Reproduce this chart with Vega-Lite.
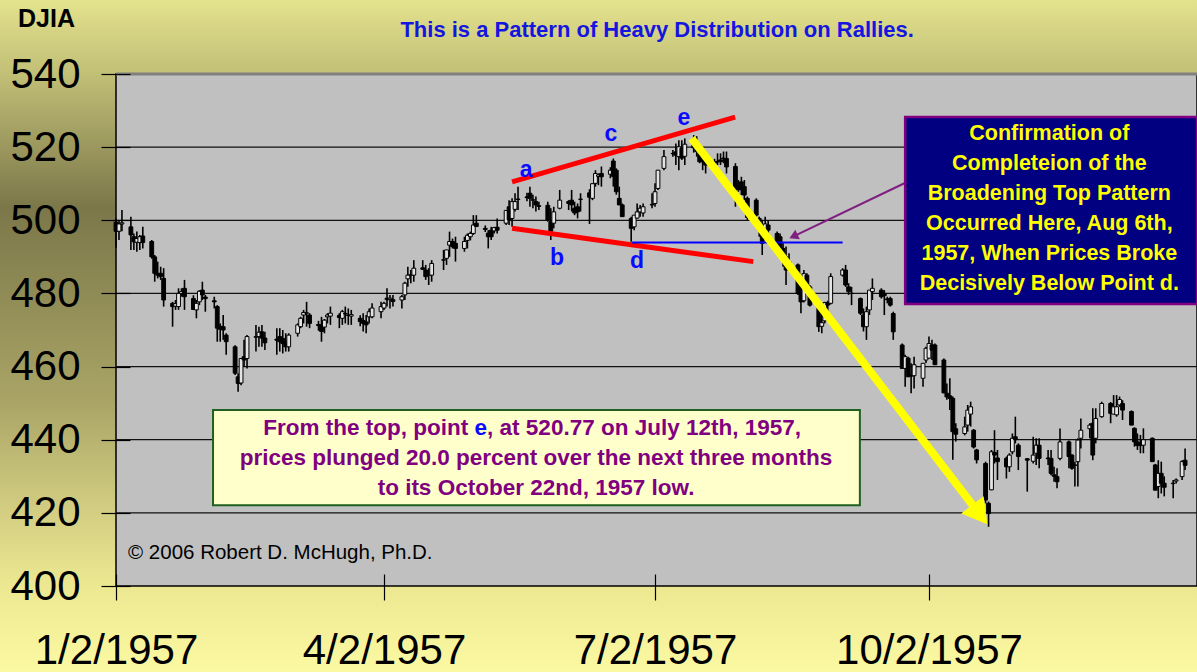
{
"$schema": "https://vega.github.io/schema/vega-lite/v6.json",
"width": 1081, "height": 512,
"autosize": {"type": "none"},
"padding": {"left": 116, "top": 74, "right": 0, "bottom": 86},
"background": "#e4e38d",
"config": {"view": {"stroke": null}, "font": "Liberation Sans"},
"datasets": {
"grid": [{"g":420},{"g":440},{"g":460},{"g":480},{"g":500},{"g":520}],
"djia": [
{"d":"1957-01-02","o":499.5,"h":500.5,"l":492.5,"c":497},
{"d":"1957-01-03","o":497,"h":500,"l":494.6,"c":499},
{"d":"1957-01-04","o":499,"h":502.8,"l":497,"c":499.3},
{"d":"1957-01-07","o":498.2,"h":501,"l":491.9,"c":496},
{"d":"1957-01-08","o":495.5,"h":496.4,"l":491.9,"c":494.1},
{"d":"1957-01-09","o":494,"h":496.9,"l":491.4,"c":495},
{"d":"1957-01-10","o":493.9,"h":496,"l":491.9,"c":495.5},
{"d":"1957-01-11","o":495.7,"h":498.2,"l":492.3,"c":493.9},
{"d":"1957-01-14","o":494.2,"h":494.6,"l":489.5,"c":490},
{"d":"1957-01-15","o":490,"h":490.5,"l":483.2,"c":485.5},
{"d":"1957-01-16","o":485.5,"h":488.7,"l":484.1,"c":485},
{"d":"1957-01-17","o":485.5,"h":487.3,"l":483.7,"c":484.6},
{"d":"1957-01-18","o":484.1,"h":486.9,"l":476.4,"c":478.2},
{"d":"1957-01-21","o":477.3,"h":477.7,"l":470.9,"c":476.4},
{"d":"1957-01-22","o":476.5,"h":478.2,"l":475.5,"c":477.2},
{"d":"1957-01-23","o":476.4,"h":481.4,"l":475.5,"c":480},
{"d":"1957-01-24","o":480,"h":481.4,"l":479.1,"c":480.5},
{"d":"1957-01-25","o":481.4,"h":483.7,"l":475.5,"c":479.1},
{"d":"1957-01-28","o":478.6,"h":479.5,"l":475.5,"c":475.6},
{"d":"1957-01-29","o":475.5,"h":478.2,"l":473.2,"c":477.3},
{"d":"1957-01-30","o":477.7,"h":480.9,"l":476.8,"c":480.6},
{"d":"1957-01-31","o":480.9,"h":483.2,"l":478.2,"c":479.6},
{"d":"1957-02-01","o":479,"h":479.6,"l":475,"c":478.6},
{"d":"1957-02-04","o":478,"h":479.1,"l":475.9,"c":477.7},
{"d":"1957-02-05","o":476.4,"h":476.8,"l":466.8,"c":470.5},
{"d":"1957-02-06","o":471,"h":471.8,"l":466.8,"c":470.2},
{"d":"1957-02-07","o":470.9,"h":474.1,"l":467.3,"c":470},
{"d":"1957-02-08","o":468.6,"h":469.1,"l":463.2,"c":466.8},
{"d":"1957-02-11","o":465.4,"h":465.8,"l":457.7,"c":458.2},
{"d":"1957-02-12","o":457.2,"h":458.2,"l":453.1,"c":455.4},
{"d":"1957-02-13","o":455.5,"h":462.3,"l":454.9,"c":462.2},
{"d":"1957-02-14","o":462.7,"h":467.3,"l":460,"c":461.8},
{"d":"1957-02-15","o":462.2,"h":468.6,"l":459.5,"c":468.2},
{"d":"1957-02-18","o":468,"h":471.4,"l":464.1,"c":468.2},
{"d":"1957-02-19","o":468.2,"h":470.9,"l":465.4,"c":469.4},
{"d":"1957-02-20","o":469.5,"h":471.4,"l":465.4,"c":467.8},
{"d":"1957-02-21","o":467.8,"h":469.5,"l":464.5,"c":466.5},
{"d":"1957-02-25","o":467.5,"h":470.5,"l":463.2,"c":467.2},
{"d":"1957-02-26","o":468.2,"h":470.5,"l":464.1,"c":466.8},
{"d":"1957-02-27","o":467.7,"h":470,"l":463.6,"c":466.3},
{"d":"1957-02-28","o":466.8,"h":469.1,"l":464.1,"c":465.4},
{"d":"1957-03-01","o":465.4,"h":469.1,"l":464.1,"c":468.6},
{"d":"1957-03-04","o":469.1,"h":471.8,"l":468.2,"c":471.4},
{"d":"1957-03-05","o":470.9,"h":473.6,"l":470.5,"c":473.2},
{"d":"1957-03-06","o":474.1,"h":475.5,"l":471.8,"c":474.8},
{"d":"1957-03-07","o":474.6,"h":477.7,"l":470.9,"c":474.7},
{"d":"1957-03-08","o":474.1,"h":474.6,"l":470.5,"c":471.8},
{"d":"1957-03-11","o":471.5,"h":472.5,"l":469.8,"c":471.2},
{"d":"1957-03-12","o":471.4,"h":473.6,"l":466.8,"c":469.6},
{"d":"1957-03-13","o":470.8,"h":473,"l":469.1,"c":472.7},
{"d":"1957-03-14","o":473.6,"h":474.6,"l":471.8,"c":474.1},
{"d":"1957-03-15","o":473.8,"h":476.4,"l":471.4,"c":474.6},
{"d":"1957-03-18","o":474,"h":474.6,"l":470.5,"c":473.4},
{"d":"1957-03-19","o":473.2,"h":475.5,"l":471.4,"c":475},
{"d":"1957-03-20","o":474.5,"h":476.4,"l":471.8,"c":474.4},
{"d":"1957-03-21","o":474.1,"h":475.9,"l":471.4,"c":474},
{"d":"1957-03-22","o":473.8,"h":475.5,"l":471.4,"c":474.2},
{"d":"1957-03-25","o":473.2,"h":474,"l":471,"c":472.3},
{"d":"1957-03-26","o":472.6,"h":474.6,"l":469.6,"c":471.8},
{"d":"1957-03-27","o":472.2,"h":474.1,"l":469.1,"c":471.4},
{"d":"1957-03-28","o":473.6,"h":475.9,"l":471.8,"c":475},
{"d":"1957-03-29","o":473.6,"h":477.3,"l":473.2,"c":476},
{"d":"1957-04-01","o":475,"h":477.7,"l":473.2,"c":476.4},
{"d":"1957-04-02","o":476,"h":477.7,"l":475.5,"c":477.3},
{"d":"1957-04-03","o":478.7,"h":481.4,"l":476.4,"c":478.3},
{"d":"1957-04-04","o":478.3,"h":479.6,"l":475.9,"c":478.7},
{"d":"1957-04-05","o":478.3,"h":479.6,"l":476.4,"c":477.8},
{"d":"1957-04-08","o":478.2,"h":479.6,"l":475.9,"c":479.1},
{"d":"1957-04-09","o":479.6,"h":483.2,"l":478.2,"c":482.8},
{"d":"1957-04-10","o":484,"h":487.3,"l":481.8,"c":485},
{"d":"1957-04-11","o":485,"h":486.4,"l":482.8,"c":485.1},
{"d":"1957-04-12","o":485,"h":489.1,"l":483.2,"c":486.9},
{"d":"1957-04-15","o":487,"h":489.1,"l":486.4,"c":486.6},
{"d":"1957-04-16","o":486.4,"h":487.8,"l":483.7,"c":484.6},
{"d":"1957-04-17","o":485,"h":486.9,"l":482.3,"c":485.1},
{"d":"1957-04-18","o":485,"h":489.1,"l":483.2,"c":488.2},
{"d":"1957-04-22","o":489.2,"h":491.9,"l":486.4,"c":489.1},
{"d":"1957-04-23","o":489.6,"h":491.9,"l":487.8,"c":491.9},
{"d":"1957-04-24","o":493.2,"h":496.9,"l":490,"c":494.2},
{"d":"1957-04-25","o":494.2,"h":495,"l":492.3,"c":492.8},
{"d":"1957-04-26","o":493.7,"h":495.5,"l":488.7,"c":492.3},
{"d":"1957-04-29","o":492.3,"h":495.5,"l":491.4,"c":494.2},
{"d":"1957-04-30","o":494.5,"h":496.4,"l":492.3,"c":495.9},
{"d":"1957-05-01","o":495.5,"h":496.9,"l":494.5,"c":496.4},
{"d":"1957-05-02","o":496.4,"h":501.4,"l":496,"c":498.7},
{"d":"1957-05-03","o":499.2,"h":501.4,"l":498.2,"c":498.3},
{"d":"1957-05-06","o":497.8,"h":498.6,"l":496.8,"c":497.5},
{"d":"1957-05-07","o":496.5,"h":497.3,"l":492.3,"c":495.5},
{"d":"1957-05-08","o":497.3,"h":498.2,"l":494.6,"c":495.5},
{"d":"1957-05-09","o":497.1,"h":498.2,"l":496.4,"c":498},
{"d":"1957-05-10","o":498.1,"h":500.5,"l":496.4,"c":497.3},
{"d":"1957-05-13","o":499.2,"h":502.8,"l":498.7,"c":502.7},
{"d":"1957-05-14","o":503.7,"h":505.5,"l":498.7,"c":500.1},
{"d":"1957-05-15","o":500.5,"h":506,"l":498.2,"c":505.1},
{"d":"1957-05-16","o":503,"h":507.4,"l":502.4,"c":505.1},
{"d":"1957-05-17","o":505.8,"h":509.2,"l":502.8,"c":505.7},
{"d":"1957-05-20","o":506.4,"h":507.5,"l":505.2,"c":506.2},
{"d":"1957-05-21","o":507.4,"h":509.2,"l":503.7,"c":506},
{"d":"1957-05-22","o":505.6,"h":507,"l":503.3,"c":505.5},
{"d":"1957-05-23","o":505.1,"h":506.5,"l":502.4,"c":504.2},
{"d":"1957-05-24","o":504,"h":505.1,"l":502.8,"c":503.8},
{"d":"1957-05-27","o":504.1,"h":505.1,"l":499.6,"c":500.1},
{"d":"1957-05-28","o":499.6,"h":503.3,"l":494.6,"c":497},
{"d":"1957-05-29","o":499.2,"h":503.7,"l":497.8,"c":502.3},
{"d":"1957-05-31","o":503.3,"h":508.3,"l":503,"c":505.5},
{"d":"1957-06-03","o":505.1,"h":505.5,"l":502.8,"c":504.6},
{"d":"1957-06-04","o":505.5,"h":508.3,"l":502.4,"c":504.2},
{"d":"1957-06-05","o":503.3,"h":505.1,"l":501.4,"c":502},
{"d":"1957-06-06","o":503.7,"h":504.6,"l":500.5,"c":502.3},
{"d":"1957-06-07","o":505.7,"h":507.4,"l":502.4,"c":505.8},
{"d":"1957-06-10","o":507.5,"h":508.5,"l":499,"c":506.3},
{"d":"1957-06-11","o":506,"h":510.1,"l":505.5,"c":510},
{"d":"1957-06-12","o":510.1,"h":513.7,"l":509.2,"c":512.8},
{"d":"1957-06-13","o":512,"h":512.8,"l":509.6,"c":512.4},
{"d":"1957-06-14","o":512.8,"h":514.7,"l":509.2,"c":511.9},
{"d":"1957-06-17","o":512.6,"h":514.5,"l":511.5,"c":513.7},
{"d":"1957-06-18","o":516.2,"h":516.9,"l":509.2,"c":512},
{"d":"1957-06-19","o":513.7,"h":514.2,"l":507,"c":507.8},
{"d":"1957-06-20","o":506,"h":509.2,"l":504.2,"c":504.2},
{"d":"1957-06-21","o":504.2,"h":504.6,"l":501,"c":501},
{"d":"1957-06-24","o":500.5,"h":501,"l":494.1,"c":497.8},
{"d":"1957-06-25","o":498.2,"h":501.4,"l":497.3,"c":501.4},
{"d":"1957-06-26","o":500.6,"h":504.6,"l":500.5,"c":502.3},
{"d":"1957-06-27","o":502.3,"h":504.2,"l":501,"c":503.3},
{"d":"1957-06-28","o":502,"h":504.6,"l":501,"c":503.7},
{"d":"1957-07-01","o":504.3,"h":507.4,"l":503.3,"c":504.2},
{"d":"1957-07-02","o":504.6,"h":510.1,"l":503.7,"c":507.8},
{"d":"1957-07-03","o":508.7,"h":513.7,"l":508.3,"c":513.7},
{"d":"1957-07-05","o":514.2,"h":519.2,"l":513.7,"c":517.4},
{"d":"1957-07-08","o":518.3,"h":519.2,"l":517.4,"c":518.2},
{"d":"1957-07-09","o":518.7,"h":521,"l":515.1,"c":517.8},
{"d":"1957-07-10","o":517.4,"h":521.9,"l":513.7,"c":520.1},
{"d":"1957-07-11","o":519.7,"h":521.9,"l":516.5,"c":517},
{"d":"1957-07-12","o":517.5,"h":522.4,"l":515.1,"c":520.8},
{"d":"1957-07-15","o":520.5,"h":523.3,"l":518.5,"c":519.8},
{"d":"1957-07-16","o":519.5,"h":523,"l":517.4,"c":518.8},
{"d":"1957-07-17","o":518.3,"h":518.8,"l":515.6,"c":516},
{"d":"1957-07-18","o":517.4,"h":518.8,"l":513.7,"c":516},
{"d":"1957-07-19","o":516.5,"h":517.4,"l":512.8,"c":515.1},
{"d":"1957-07-22","o":516,"h":516.8,"l":514.7,"c":515.6},
{"d":"1957-07-23","o":516,"h":518.3,"l":515.1,"c":516.1},
{"d":"1957-07-24","o":516.5,"h":518.3,"l":515.1,"c":516},
{"d":"1957-07-25","o":517,"h":518.8,"l":515.6,"c":516.8},
{"d":"1957-07-26","o":516.9,"h":518.8,"l":512.8,"c":514.6},
{"d":"1957-07-29","o":514.7,"h":515.6,"l":503.7,"c":508.3},
{"d":"1957-07-30","o":509.5,"h":511,"l":507.8,"c":509.2},
{"d":"1957-07-31","o":510.5,"h":511.9,"l":506.9,"c":508.3},
{"d":"1957-08-01","o":509.2,"h":511,"l":505.5,"c":506.9},
{"d":"1957-08-02","o":506,"h":506.5,"l":500.1,"c":500.8},
{"d":"1957-08-05","o":505.5,"h":506,"l":501,"c":501.4},
{"d":"1957-08-06","o":500.5,"h":501,"l":495.5,"c":497.3},
{"d":"1957-08-07","o":498.3,"h":500.1,"l":490.5,"c":493.7},
{"d":"1957-08-08","o":496.5,"h":501,"l":495.5,"c":499},
{"d":"1957-08-09","o":498.7,"h":500.1,"l":496,"c":497.3},
{"d":"1957-08-12","o":496.4,"h":496.9,"l":493.2,"c":493.7},
{"d":"1957-08-13","o":495.5,"h":496.4,"l":491.9,"c":492.4},
{"d":"1957-08-14","o":492.3,"h":493.7,"l":487.3,"c":489.1},
{"d":"1957-08-15","o":490,"h":492.8,"l":482.3,"c":486.4},
{"d":"1957-08-16","o":488.7,"h":491,"l":486.4,"c":487.8},
{"d":"1957-08-19","o":487.8,"h":488.2,"l":479.6,"c":480},
{"d":"1957-08-20","o":481.8,"h":482.8,"l":474.6,"c":477.7},
{"d":"1957-08-21","o":478,"h":486.4,"l":477.5,"c":485.4},
{"d":"1957-08-22","o":485,"h":485.5,"l":480,"c":481.8},
{"d":"1957-08-23","o":481.8,"h":482.3,"l":476.4,"c":476.8},
{"d":"1957-08-26","o":476,"h":476.5,"l":469.5,"c":470.9},
{"d":"1957-08-27","o":471,"h":476.4,"l":469.1,"c":472},
{"d":"1957-08-28","o":472.5,"h":477.7,"l":471.8,"c":477.5},
{"d":"1957-08-29","o":477.5,"h":478,"l":472.7,"c":476.8},
{"d":"1957-08-30","o":477.3,"h":485.5,"l":477,"c":484.6},
{"d":"1957-09-03","o":485,"h":486.9,"l":484.6,"c":486.4},
{"d":"1957-09-04","o":486.4,"h":487.8,"l":481.8,"c":482.3},
{"d":"1957-09-05","o":481.8,"h":482.8,"l":479.6,"c":480.5},
{"d":"1957-09-06","o":480,"h":481.8,"l":476.8,"c":480},
{"d":"1957-09-09","o":478.6,"h":478.9,"l":474.1,"c":474.6},
{"d":"1957-09-10","o":474.1,"h":475.9,"l":469.6,"c":470.9},
{"d":"1957-09-11","o":470.9,"h":476.4,"l":467.3,"c":475},
{"d":"1957-09-12","o":475.5,"h":480.9,"l":474.1,"c":480.9},
{"d":"1957-09-13","o":480.5,"h":484.1,"l":478.2,"c":481.4},
{"d":"1957-09-16","o":480.9,"h":481.4,"l":478.6,"c":479.1},
{"d":"1957-09-17","o":480,"h":480.9,"l":474.1,"c":479.4},
{"d":"1957-09-18","o":478.5,"h":479.1,"l":477.3,"c":478.3},
{"d":"1957-09-19","o":478.6,"h":479.1,"l":476.4,"c":476.8},
{"d":"1957-09-20","o":474.5,"h":475,"l":467.3,"c":469.5},
{"d":"1957-09-23","o":465.9,"h":466.3,"l":459.5,"c":459.5},
{"d":"1957-09-24","o":459.5,"h":463.2,"l":454.5,"c":462.7},
{"d":"1957-09-25","o":462.3,"h":462.7,"l":457.2,"c":457.2},
{"d":"1957-09-26","o":457.7,"h":460.9,"l":452.7,"c":457.4},
{"d":"1957-09-27","o":457.5,"h":462.7,"l":454,"c":460.5},
{"d":"1957-09-30","o":456.8,"h":460.9,"l":454.5,"c":460.9},
{"d":"1957-10-01","o":461.8,"h":465.4,"l":461,"c":465},
{"d":"1957-10-02","o":462.3,"h":468.2,"l":462.2,"c":466.3},
{"d":"1957-10-03","o":465.9,"h":467.3,"l":461.8,"c":464.5},
{"d":"1957-10-04","o":465.9,"h":466.3,"l":460.5,"c":460.5},
{"d":"1957-10-07","o":461.8,"h":462.2,"l":452.7,"c":452.8},
{"d":"1957-10-08","o":452.7,"h":455.4,"l":450.9,"c":451.7},
{"d":"1957-10-09","o":452,"h":456.8,"l":448.1,"c":451.3},
{"d":"1957-10-10","o":451.3,"h":451.8,"l":434.5,"c":442.2},
{"d":"1957-10-11","o":443,"h":444.5,"l":439.5,"c":441.5},
{"d":"1957-10-14","o":441.7,"h":446.3,"l":441.2,"c":443.5},
{"d":"1957-10-15","o":444,"h":449.5,"l":442.2,"c":448.1},
{"d":"1957-10-16","o":447,"h":450.4,"l":443.6,"c":449},
{"d":"1957-10-17","o":442.6,"h":442.9,"l":437.6,"c":438},
{"d":"1957-10-18","o":437.2,"h":437.5,"l":433.5,"c":434.5},
{"d":"1957-10-21","o":433.5,"h":434,"l":422.6,"c":423.5},
{"d":"1957-10-22","o":422.6,"h":423.1,"l":416.2,"c":419.8},
{"d":"1957-10-23","o":426.3,"h":437.2,"l":426.2,"c":436.7},
{"d":"1957-10-24","o":436.5,"h":442.6,"l":433.5,"c":435.8},
{"d":"1957-10-25","o":435,"h":437.2,"l":429,"c":434},
{"d":"1957-10-28","o":434.9,"h":435.4,"l":429.4,"c":432.6},
{"d":"1957-10-29","o":432.6,"h":436.3,"l":431.2,"c":435.8},
{"d":"1957-10-30","o":436.7,"h":441.7,"l":436,"c":440.4},
{"d":"1957-10-31","o":440.8,"h":446.3,"l":439,"c":440},
{"d":"1957-11-01","o":438.5,"h":439,"l":431.7,"c":435.4},
{"d":"1957-11-04","o":434.8,"h":434.9,"l":425.8,"c":434.4},
{"d":"1957-11-06","o":434.1,"h":440.8,"l":433.5,"c":435.8},
{"d":"1957-11-07","o":436.3,"h":440.4,"l":433.1,"c":438.5},
{"d":"1957-11-08","o":438.5,"h":440.4,"l":432.2,"c":434.9},
{"d":"1957-11-11","o":435,"h":437.2,"l":433.1,"c":434.8},
{"d":"1957-11-12","o":434.9,"h":437.2,"l":430.3,"c":430.8},
{"d":"1957-11-13","o":430.4,"h":432.6,"l":428.5,"c":430},
{"d":"1957-11-14","o":429.9,"h":432.2,"l":426.7,"c":428.5},
{"d":"1957-11-15","o":434.9,"h":443.1,"l":434.4,"c":439.4},
{"d":"1957-11-18","o":439.4,"h":439.8,"l":432.2,"c":435.4},
{"d":"1957-11-19","o":435.8,"h":436,"l":431.8,"c":432.2},
{"d":"1957-11-20","o":433.1,"h":434,"l":427.2,"c":433},
{"d":"1957-11-21","o":434,"h":440.4,"l":427.2,"c":439.9},
{"d":"1957-11-22","o":440.4,"h":445.8,"l":437.6,"c":442.6},
{"d":"1957-11-25","o":443,"h":444.5,"l":440.4,"c":444},
{"d":"1957-11-26","o":444.5,"h":448.6,"l":434.4,"c":435.8},
{"d":"1957-11-27","o":440.4,"h":448.6,"l":439,"c":445.8},
{"d":"1957-11-29","o":446.3,"h":450.4,"l":446,"c":449.9},
{"d":"1957-12-02","o":449.9,"h":450.3,"l":444.5,"c":447.2},
{"d":"1957-12-03","o":447,"h":452.2,"l":447,"c":449},
{"d":"1957-12-04","o":446.8,"h":452.2,"l":446.3,"c":449},
{"d":"1957-12-05","o":449.5,"h":451.8,"l":449,"c":451},
{"d":"1957-12-06","o":449.9,"h":450.8,"l":445.4,"c":448.1},
{"d":"1957-12-09","o":447.7,"h":448,"l":444,"c":444},
{"d":"1957-12-10","o":443.1,"h":443.4,"l":438.1,"c":439.4},
{"d":"1957-12-11","o":439.4,"h":441.7,"l":437.2,"c":438.4},
{"d":"1957-12-12","o":439,"h":441.3,"l":436.3,"c":438.4},
{"d":"1957-12-13","o":438.5,"h":443.1,"l":436.3,"c":440},
{"d":"1957-12-16","o":440.4,"h":440.6,"l":434,"c":434},
{"d":"1957-12-17","o":433.1,"h":433.4,"l":426.2,"c":426.2},
{"d":"1957-12-18","o":427.2,"h":434.4,"l":424,"c":430.8},
{"d":"1957-12-19","o":430.8,"h":434,"l":425.3,"c":428.1},
{"d":"1957-12-20","o":428.1,"h":430,"l":424.5,"c":427},
{"d":"1957-12-23","o":428.1,"h":429,"l":424,"c":428},
{"d":"1957-12-24","o":428.7,"h":429.4,"l":428,"c":429},
{"d":"1957-12-26","o":429.9,"h":434.4,"l":429,"c":434},
{"d":"1957-12-27","o":434.4,"h":437.6,"l":431.7,"c":433}
]},
"layer": [
{"data": {"values": [{}]},
 "mark": {"type": "rect", "fill": {"gradient": "linear", "x1": 0, "y1": 0, "x2": 0, "y2": 1,
   "stops": [{"offset": 0, "color": "#e4e38d"}, {"offset": 0.11, "color": "#c2bf77"}, {"offset": 0.31, "color": "#7b7749"}, {"offset": 0.6, "color": "#aaa566"}, {"offset": 0.75, "color": "#d0cb80"}, {"offset": 0.87, "color": "#ece891"}, {"offset": 1, "color": "#fcf9a3"}]}},
 "encoding": {
   "x": {"datum": {"year": 1956, "month": 11, "date": 20, "utc": true}, "type": "temporal",
         "scale": {"type": "utc", "padding": 0, "domain": [{"year": 1957, "month": 1, "date": 2, "utc": true}, {"year": 1957, "month": 12, "date": 31, "utc": true}]}},
   "x2": {"datum": {"year": 1958, "month": 1, "date": 10, "utc": true}},
   "y": {"datum": 560.5, "type": "quantitative", "scale": {"domain": [400, 540], "nice": false, "zero": false, "padding": 0}},
   "y2": {"datum": 376.3}}},
{"data": {"values": [{}]},
 "mark": {"type": "rect", "fill": "#c0c0c0", "stroke": "#000000", "strokeWidth": 1.5},
 "encoding": {
   "x": {"datum": {"year": 1957, "month": 1, "date": 2, "utc": true}, "type": "temporal"},
   "x2": {"datum": {"year": 1957, "month": 12, "date": 31, "utc": true}},
   "y": {"datum": 540, "type": "quantitative"},
   "y2": {"datum": 400}}},
{"data": {"name": "grid"},
 "mark": {"type": "rule", "stroke": "#111111", "strokeWidth": 1.2},
 "encoding": {"y": {"field": "g", "type": "quantitative"}}},
{"data": {"values": [{}]},
 "mark": {"type": "rule", "stroke": "#808080", "strokeWidth": 3},
 "encoding": {"y": {"datum": 540, "type": "quantitative"}}},
{"data": {"name": "djia"},
 "mark": {"type": "rule", "stroke": "#000000", "strokeWidth": 1.6},
 "encoding": {
   "x": {"field": "d", "type": "temporal",
     "scale": {"type": "utc", "padding": 0, "domain": [{"year": 1957, "month": 1, "date": 2, "utc": true}, {"year": 1957, "month": 12, "date": 31, "utc": true}]},
     "axis": {"values": [{"year": 1957, "month": 1, "date": 2, "utc": true}, {"year": 1957, "month": 4, "date": 2, "utc": true}, {"year": 1957, "month": 7, "date": 2, "utc": true}, {"year": 1957, "month": 10, "date": 2, "utc": true}],
       "format": "%-m/%-d/%Y", "title": null, "grid": false, "domain": false, "offset": -12, "tickSize": 26, "tickColor": "#000000", "tickWidth": 1.2,
       "labelFontSize": 42, "labelFont": "Liberation Sans", "labelColor": "#000000", "labelPadding": 30, "labelLimit": 0, "labelFlush": false, "labelOverlap": false, "labelBound": false, "zindex": 1}},
   "y": {"field": "l", "type": "quantitative",
     "scale": {"domain": [400, 540], "nice": false, "zero": false, "padding": 0},
     "axis": {"values": [400, 420, 440, 460, 480, 500, 520, 540], "format": "d", "title": null, "grid": false, "domain": false, "offset": -14, "tickSize": 29, "tickColor": "#000000", "tickWidth": 1.2,
       "labelFontSize": 42, "labelFont": "Liberation Sans", "labelColor": "#000000", "labelPadding": 21, "labelLimit": 0, "labelOverlap": false, "labelBound": false, "labelFlush": false, "zindex": 1}},
   "y2": {"field": "h"}}},
{"data": {"name": "djia"},
 "mark": {"type": "bar", "width": 3.8, "stroke": "#000000", "strokeWidth": 1},
 "encoding": {
   "x": {"field": "d", "type": "temporal"},
   "y": {"field": "o", "type": "quantitative"},
   "y2": {"field": "c"},
   "fill": {"condition": {"test": "datum.c < datum.o", "value": "#000000"}, "value": "#e4e4e4"}}},
{"data": {"values": [{}]},
 "layer": [
  {"mark": {"type": "rule", "stroke": "#ff0000", "strokeWidth": 5},
   "encoding": {"x": {"datum": {"year": 1957, "month": 5, "date": 15, "utc": true}, "type": "temporal"}, "y": {"datum": 510.5, "type": "quantitative"},
     "x2": {"datum": {"year": 1957, "month": 7, "date": 28, "hours": 22, "utc": true}}, "y2": {"datum": 528.2}}},
  {"mark": {"type": "rule", "stroke": "#ff0000", "strokeWidth": 5},
   "encoding": {"x": {"datum": {"year": 1957, "month": 5, "date": 15, "utc": true}, "type": "temporal"}, "y": {"datum": 497.8, "type": "quantitative"},
     "x2": {"datum": {"year": 1957, "month": 8, "date": 4, "utc": true}}, "y2": {"datum": 488.7}}},
  {"mark": {"type": "rule", "stroke": "#0000ff", "strokeWidth": 2},
   "encoding": {"x": {"datum": {"year": 1957, "month": 6, "date": 24, "hours": 5, "utc": true}, "type": "temporal"}, "y": {"datum": 493.9, "type": "quantitative"},
     "x2": {"datum": {"year": 1957, "month": 9, "date": 3, "utc": true}}, "y2": {"datum": 493.9}}},
  {"mark": {"type": "rule", "stroke": "#ffff00", "strokeWidth": 8},
   "encoding": {"x": {"datum": {"year": 1957, "month": 7, "date": 14, "hours": 7, "utc": true}, "type": "temporal"}, "y": {"datum": 522.4, "type": "quantitative"},
     "x2": {"datum": {"year": 1957, "month": 10, "date": 19, "hours": 2, "utc": true}}, "y2": {"datum": 419.55}}},
  {"mark": {"type": "point", "shape": "triangle-down", "filled": true, "fill": "#ffff00", "opacity": 1, "size": 800, "angle": 322.5, "strokeWidth": 0},
   "encoding": {"x": {"datum": {"year": 1957, "month": 10, "date": 19, "hours": 2, "utc": true}, "type": "temporal"}, "y": {"datum": 419.55, "type": "quantitative"}}},
  {"mark": {"type": "rule", "stroke": "#7f1f7f", "strokeWidth": 2},
   "encoding": {"x": {"datum": {"year": 1957, "month": 9, "date": 23, "hours": 22, "utc": true}, "type": "temporal"}, "y": {"datum": 510.2, "type": "quantitative"},
     "x2": {"datum": {"year": 1957, "month": 8, "date": 17, "hours": 12, "utc": true}}, "y2": {"datum": 495.6}}},
  {"mark": {"type": "point", "shape": "triangle-down", "filled": true, "fill": "#7f1f7f", "opacity": 1, "size": 110, "angle": 64.5, "strokeWidth": 0},
   "encoding": {"x": {"datum": {"year": 1957, "month": 8, "date": 17, "hours": 12, "utc": true}, "type": "temporal"}, "y": {"datum": 495.6, "type": "quantitative"}}},
  {"mark": {"type": "text", "text": "a", "fontSize": 23, "fontWeight": "bold", "color": "#0a0aff", "align": "center", "baseline": "alphabetic"},
   "encoding": {"x": {"datum": {"year": 1957, "month": 5, "date": 19, "hours": 17, "utc": true}, "type": "temporal"}, "y": {"datum": 511.8, "type": "quantitative"}}},
  {"mark": {"type": "text", "text": "b", "fontSize": 23, "fontWeight": "bold", "color": "#0a0aff", "align": "center", "baseline": "alphabetic"},
   "encoding": {"x": {"datum": {"year": 1957, "month": 5, "date": 30, "hours": 2, "utc": true}, "type": "temporal"}, "y": {"datum": 487.8, "type": "quantitative"}}},
  {"mark": {"type": "text", "text": "c", "fontSize": 23, "fontWeight": "bold", "color": "#0a0aff", "align": "center", "baseline": "alphabetic"},
   "encoding": {"x": {"datum": {"year": 1957, "month": 6, "date": 17, "hours": 5, "utc": true}, "type": "temporal"}, "y": {"datum": 521.7, "type": "quantitative"}}},
  {"mark": {"type": "text", "text": "d", "fontSize": 23, "fontWeight": "bold", "color": "#0a0aff", "align": "center", "baseline": "alphabetic"},
   "encoding": {"x": {"datum": {"year": 1957, "month": 6, "date": 26, "utc": true}, "type": "temporal"}, "y": {"datum": 487.0, "type": "quantitative"}}},
  {"mark": {"type": "text", "text": "e", "fontSize": 23, "fontWeight": "bold", "color": "#0a0aff", "align": "center", "baseline": "alphabetic"},
   "encoding": {"x": {"datum": {"year": 1957, "month": 7, "date": 11, "hours": 17, "utc": true}, "type": "temporal"}, "y": {"datum": 526.05, "type": "quantitative"}}},
  {"mark": {"type": "rect", "fill": "#000080", "stroke": "#800080", "strokeWidth": 2.5},
   "encoding": {"x": {"datum": {"year": 1957, "month": 9, "date": 24, "utc": true}, "type": "temporal"}, "x2": {"datum": {"year": 1957, "month": 12, "date": 31, "utc": true}},
     "y": {"datum": 528.24, "type": "quantitative"}, "y2": {"datum": 477.1}}},
  {"mark": {"type": "text", "fontSize": 21.5, "fontWeight": "bold", "color": "#ffff00", "align": "center", "baseline": "alphabetic", "lineHeight": 30},
   "encoding": {"x": {"datum": {"year": 1957, "month": 11, "date": 11, "hours": 10, "utc": true}, "type": "temporal"}, "y": {"datum": 521.95, "type": "quantitative"},
     "text": {"value": ["Confirmation of", "Completeion of the", "Broadening Top Pattern", "Occurred Here, Aug 6th,", "1957, When Prices Broke", "Decisively Below Point d."]}}},
  {"mark": {"type": "rect", "fill": "#ffffcc", "stroke": "#1f5f1f", "strokeWidth": 2},
   "encoding": {"x": {"datum": {"year": 1957, "month": 2, "date": 3, "hours": 14, "utc": true}, "type": "temporal"}, "x2": {"datum": {"year": 1957, "month": 9, "date": 8, "hours": 19, "utc": true}},
     "y": {"datum": 448.1, "type": "quantitative"}, "y2": {"datum": 422.1}}},
  {"mark": {"type": "text", "fontSize": 22.5, "fontWeight": "bold", "color": "#800080", "align": "center", "baseline": "alphabetic", "lineHeight": 30},
   "encoding": {"x": {"datum": {"year": 1957, "month": 5, "date": 23, "hours": 1, "utc": true}, "type": "temporal"}, "y": {"datum": 433.1, "type": "quantitative"},
     "text": {"value": ["prices plunged 20.0 percent over the next three months", "to its October 22nd, 1957 low."]}}},
  {"mark": {"type": "text", "text": "From the top, point", "fontSize": 22.5, "fontWeight": "bold", "color": "#800080", "align": "right", "baseline": "alphabetic", "dx": -6.3},
   "encoding": {"x": {"datum": {"year": 1957, "month": 5, "date": 2, "hours": 10, "utc": true}, "type": "temporal"}, "y": {"datum": 441.3, "type": "quantitative"}}},
  {"mark": {"type": "text", "text": "e", "fontSize": 22.5, "fontWeight": "bold", "color": "#0a0aff", "align": "left", "baseline": "alphabetic"},
   "encoding": {"x": {"datum": {"year": 1957, "month": 5, "date": 2, "hours": 10, "utc": true}, "type": "temporal"}, "y": {"datum": 441.3, "type": "quantitative"}}},
  {"mark": {"type": "text", "text": ", at 520.77 on July 12th, 1957,", "fontSize": 22.5, "fontWeight": "bold", "color": "#800080", "align": "left", "baseline": "alphabetic", "dx": 12.5},
   "encoding": {"x": {"datum": {"year": 1957, "month": 5, "date": 2, "hours": 10, "utc": true}, "type": "temporal"}, "y": {"datum": 441.3, "type": "quantitative"}}},
  {"mark": {"type": "text", "text": "© 2006 Robert D. McHugh, Ph.D.", "fontSize": 20.5, "color": "#000000", "align": "left", "baseline": "alphabetic"},
   "encoding": {"x": {"datum": {"year": 1957, "month": 1, "date": 6, "hours": 1, "utc": true}, "type": "temporal"}, "y": {"datum": 407.4, "type": "quantitative"}}},
  {"mark": {"type": "text", "text": "This is a Pattern of Heavy Distribution on Rallies.", "fontSize": 22, "fontWeight": "bold", "color": "#1515e0", "align": "center", "baseline": "alphabetic"},
   "encoding": {"x": {"datum": {"year": 1957, "month": 7, "date": 2, "hours": 17, "utc": true}, "type": "temporal"}, "y": {"datum": 550.1, "type": "quantitative"}}},
  {"mark": {"type": "text", "text": "DJIA", "fontSize": 25, "fontWeight": "bold", "color": "#000000", "align": "left", "baseline": "alphabetic"},
   "encoding": {"x": {"datum": {"year": 1956, "month": 11, "date": 30, "hours": 2, "utc": true}, "type": "temporal"}, "y": {"datum": 552.85, "type": "quantitative"}}}
 ]}
]
}
